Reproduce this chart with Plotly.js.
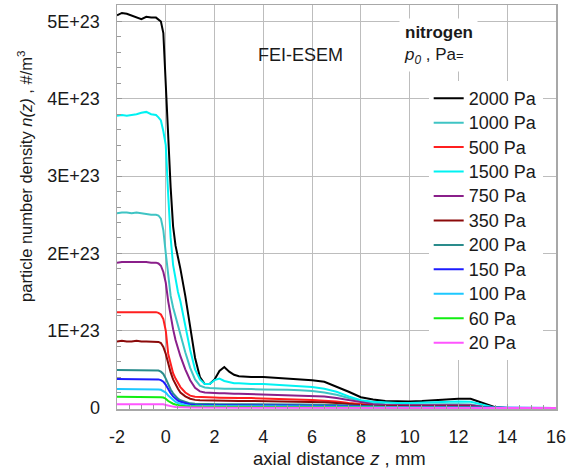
<!DOCTYPE html>
<html>
<head>
<meta charset="utf-8">
<script src="https://cdn.plot.ly/plotly-3.0.1.min.js"></script>
<style>
  html, body { margin: 0; padding: 0; background: #ffffff; }
  #chart { width: 575px; height: 470px; }
</style>
</head>
<body>
<div id="chart"></div>
<script>
// Axial distance along the jet, mm
const zMm = [-2,-1.8,-1.6,-1.4,-1.2,-1,-0.8,-0.6,-0.4,-0.3,-0.2,-0.1,
  0,0.1,0.2,0.3,0.4,0.5,0.6,
  0.8,1,1.2,1.4,1.6,1.8,2,2.2,2.4,2.6,2.8,3,
  3.5,4,4.5,5,5.5,6,6.5,7,7.5,8,8.5,9,9.5,10,10.5,11,11.5,12,12.5,13,13.5,
  14,16];

// Nitrogen number density n(z), in units of 1E+23 per m^3, for each stagnation pressure
const n2000 = [5.08,5.11,5.10,5.08,5.06,5.03,5.06,5.05,5.05,5.03,5.00,4.85,
  4.20,3.35,2.85,2.35,2.10,1.95,1.80,
  1.45,1.05,0.65,0.40,0.31,0.31,0.37,0.48,0.53,0.47,0.43,0.41,
  0.40,0.40,0.39,0.38,0.37,0.36,0.34,0.28,0.21,0.14,0.11,0.09,0.085,0.085,0.09,0.10,0.11,0.12,0.12,0.06,0.01,
  0,0];
const n1000 = [2.52,2.53,2.53,2.52,2.53,2.52,2.51,2.50,2.50,2.49,2.45,2.30,
  2.00,1.68,1.45,1.30,1.18,1.08,0.97,
  0.72,0.52,0.37,0.29,0.265,0.26,0.255,0.25,0.25,0.25,0.25,0.245,
  0.245,0.24,0.24,0.235,0.23,0.22,0.20,0.17,0.13,0.09,0.06,0.05,0.045,0.045,0.045,0.05,0.05,0.05,0.045,0.02,0,
  0,0];
const n500 = [1.24,1.24,1.24,1.24,1.24,1.24,1.24,1.24,1.24,1.23,1.21,1.15,
  1.00,0.70,0.56,0.45,0.38,0.32,0.27,
  0.20,0.16,0.145,0.14,0.138,0.135,0.135,0.133,0.13,0.13,0.13,0.13,
  0.128,0.125,0.12,0.115,0.11,0.105,0.095,0.085,0.065,0.05,0.04,0.035,0.03,0.03,0.03,0.03,0.03,0.03,0.03,0.01,0,
  0,0];
const n1500 = [3.78,3.79,3.78,3.79,3.80,3.82,3.83,3.80,3.79,3.76,3.72,3.58,
  3.40,2.75,2.20,1.85,1.65,1.50,1.38,
  1.05,0.75,0.50,0.37,0.31,0.31,0.36,0.38,0.35,0.33,0.32,0.32,
  0.31,0.31,0.30,0.29,0.28,0.27,0.25,0.21,0.15,0.10,0.08,0.07,0.065,0.065,0.07,0.075,0.08,0.085,0.08,0.04,0.005,
  0,0];
const n750 = [1.88,1.89,1.89,1.89,1.89,1.89,1.89,1.88,1.88,1.87,1.84,1.76,
  1.62,1.38,1.18,1.02,0.88,0.77,0.67,
  0.50,0.36,0.26,0.215,0.20,0.195,0.19,0.19,0.19,0.185,0.185,0.185,
  0.18,0.18,0.175,0.17,0.165,0.16,0.15,0.13,0.10,0.07,0.05,0.04,0.04,0.04,0.04,0.04,0.04,0.04,0.035,0.015,0,
  0,0];
const n350 = [0.86,0.87,0.86,0.86,0.87,0.86,0.86,0.86,0.86,0.855,0.84,0.79,
  0.70,0.57,0.46,0.37,0.30,0.25,0.20,
  0.15,0.12,0.105,0.10,0.098,0.096,0.095,0.094,0.093,0.092,0.091,0.09,
  0.09,0.088,0.086,0.085,0.083,0.08,0.075,0.065,0.05,0.04,0.03,0.025,0.02,0.02,0.02,0.02,0.02,0.02,0.02,0.008,0,
  0,0];
const n200 = [0.49,0.49,0.49,0.49,0.49,0.49,0.49,0.49,0.49,0.485,0.47,0.44,
  0.38,0.30,0.24,0.19,0.15,0.12,0.10,
  0.075,0.06,0.055,0.052,0.05,0.05,0.05,0.049,0.049,0.048,0.048,0.048,
  0.047,0.047,0.046,0.046,0.045,0.045,0.043,0.04,0.033,0.025,0.018,0.015,0.012,0.012,0.012,0.012,0.012,0.012,0.012,0.005,0,
  0,0];
const n150 = [0.375,0.375,0.375,0.375,0.375,0.375,0.375,0.375,0.375,0.37,0.36,0.34,
  0.30,0.24,0.19,0.15,0.12,0.095,0.08,
  0.06,0.045,0.04,0.037,0.035,0.035,0.035,0.034,0.034,0.033,0.033,0.033,
  0.032,0.032,0.031,0.031,0.03,0.03,0.029,0.028,0.023,0.018,0.013,0.01,0.008,0.008,0.008,0.008,0.008,0.008,0.008,0.003,0,
  0,0];
const n100 = [0.245,0.245,0.245,0.245,0.245,0.245,0.245,0.245,0.245,0.24,0.235,0.22,
  0.20,0.16,0.13,0.10,0.08,0.065,0.055,
  0.04,0.03,0.027,0.026,0.025,0.025,0.025,0.024,0.024,0.024,0.023,0.023,
  0.023,0.022,0.022,0.022,0.022,0.022,0.021,0.02,0.016,0.012,0.008,0.006,0.005,0.005,0.005,0.005,0.005,0.005,0.005,0.002,0,
  0,0];
const n60 = [0.145,0.145,0.145,0.145,0.145,0.145,0.145,0.145,0.145,0.143,0.14,0.135,
  0.12,0.09,0.07,0.055,0.045,0.035,0.03,
  0.022,0.018,0.016,0.015,0.015,0.015,0.015,0.015,0.014,0.014,0.014,0.014,
  0.014,0.014,0.013,0.013,0.013,0.013,0.012,0.012,0.01,0.008,0.006,0.004,0.004,0.004,0.004,0.004,0.004,0.004,0.004,0.002,0,
  0,0];
const n20 = [0.05,0.05,0.05,0.05,0.05,0.05,0.05,0.05,0.05,0.05,0.049,0.047,
  0.04,0.03,0.024,0.018,0.014,0.011,0.009,
  0.007,0.005,0.005,0.004,0.004,0.004,0.004,0.004,0.004,0.004,0.004,0.004,
  0.004,0.004,0.004,0.004,0.004,0.004,0.004,0.004,0.004,0.004,0.003,0.002,0.002,0.002,0.002,0.002,0.002,0.002,0.002,0.001,0,
  0,0];

const seriesNames = ['2000 Pa','1000 Pa','500 Pa','1500 Pa','750 Pa','350 Pa','200 Pa','150 Pa','100 Pa','60 Pa','20 Pa'];
const seriesValues = [n2000, n1000, n500, n1500, n750, n350, n200, n150, n100, n60, n20];
const seriesColors = ['#000000','#3fc4c4','#ff1f1f','#00f2f2','#8a1f8a','#8b0a0a','#2a8c8c','#1c1cff','#1ec8ff','#12ee12','#ff55ff'];

const yTickVals = [0, 1, 2, 3, 4, 5];
const yTickText = ['0', '1E+23', '2E+23', '3E+23', '4E+23', '5E+23'];
const xTickVals = [-2, 0, 2, 4, 6, 8, 10, 12, 14, 16];
const xTickText = ['-2', '0', '2', '4', '6', '8', '10', '12', '14', '16'];

const FONT = 'Liberation Sans, Arial, Helvetica, sans-serif';
const TXT = '#1a1a1a';

const traces = seriesNames.map((name, i) => ({
  type: 'scatter',
  mode: 'lines',
  name: '<span style="font-size:18px">' + name + '</span>',
  x: zMm,
  y: seriesValues[i],
  line: { color: seriesColors[i], width: 2 }
}));

const layout = {
  width: 575,
  height: 470,
  margin: { l: 117, r: 19, t: 5, b: 61 },
  paper_bgcolor: '#ffffff',
  plot_bgcolor: '#ffffff',
  font: { family: FONT, color: TXT, size: 17 },
  showlegend: true,
  legend: {
    x: 0.710, y: 0.812, xanchor: 'left', yanchor: 'top',
    bgcolor: '#ffffff', borderwidth: 0,
    font: { family: FONT, size: 16.5, color: TXT },
    itemwidth: 30,
    tracegroupgap: 0
  },
  xaxis: {
    range: [-2, 16],
    tickmode: 'array', tickvals: xTickVals, ticktext: xTickText,
    ticks: 'inside', ticklen: 5, tickcolor: '#9a9a9a',
    ticklabelstandoff: 11,
    tickfont: { family: FONT, size: 18, color: TXT },
    showgrid: true, gridcolor: '#bdbdbd', gridwidth: 1,
    showline: true, linecolor: '#a8a8a8', linewidth: 1.5, mirror: true,
    zeroline: false,
    minor: { dtick: 0.5, tick0: 0, ticks: 'inside', ticklen: 4, tickcolor: '#9a9a9a', showgrid: false }
  },
  yaxis: {
    range: [-0.013, 5.213],
    tickmode: 'array', tickvals: yTickVals, ticktext: yTickText,
    ticks: 'inside', ticklen: 5, tickcolor: '#9a9a9a',
    ticklabelstandoff: 12,
    tickfont: { family: FONT, size: 18, color: TXT },
    showgrid: true, gridcolor: '#bdbdbd', gridwidth: 1,
    showline: true, linecolor: '#a8a8a8', linewidth: 1.5, mirror: true,
    zeroline: false,
    minor: { dtick: 0.2, tick0: 0, ticks: 'inside', ticklen: 4, tickcolor: '#9a9a9a', showgrid: false }
  },
  annotations: [
    {
      text: 'FEI-ESEM', xref: 'x', yref: 'y', x: 5.52, y: 4.57,
      showarrow: false, font: { family: FONT, size: 18, color: TXT }
    },
    {
      text: '<b>nitrogen</b><br><i>p</i><sub><i>0</i></sub> , Pa<span style="font-size:13px">=</span>',
      xref: 'x', yref: 'y', x: 9.55, y: 4.70, xanchor: 'left', yanchor: 'middle',
      align: 'left', showarrow: false, bgcolor: '#ffffff', borderpad: 4,
      font: { family: FONT, size: 17, color: TXT }
    },
    {
      text: 'particle number density <i>n(z)</i> , #/m<sup>3</sup>',
      xref: 'paper', yref: 'paper', x: -0.2096, y: 0.577, textangle: -90,
      xanchor: 'center', yanchor: 'middle', showarrow: false,
      font: { family: FONT, size: 16.5, color: TXT }
    },
    {
      text: 'axial distance <i>z</i> , mm',
      xref: 'paper', yref: 'paper', x: 0.5057, y: -0.122,
      xanchor: 'center', yanchor: 'middle', showarrow: false,
      font: { family: FONT, size: 18.5, color: TXT }
    }
  ]
};

Plotly.newPlot('chart', traces, layout, { displayModeBar: false, staticPlot: true });
</script>
</body>
</html>
